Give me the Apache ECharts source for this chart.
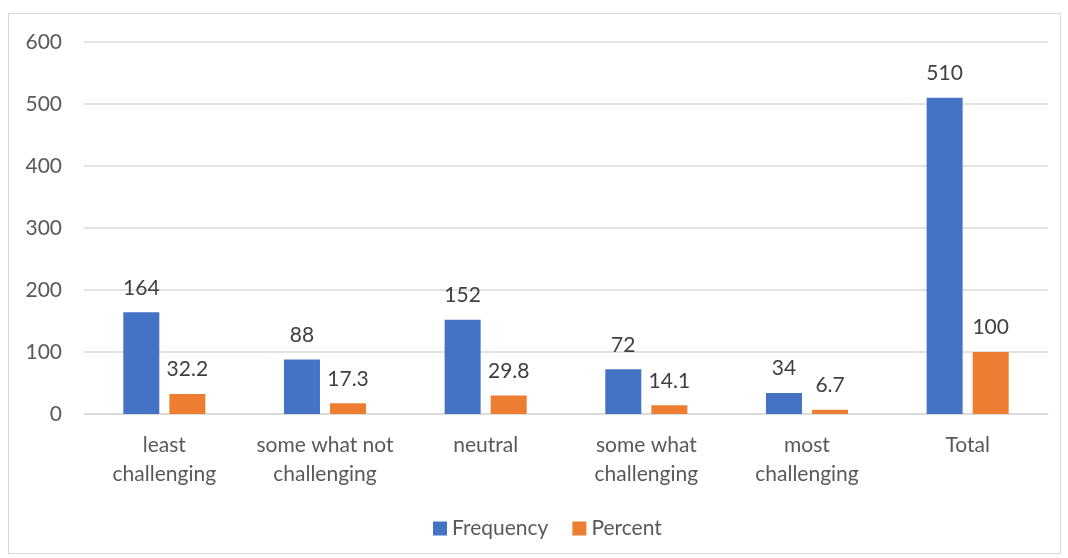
<!DOCTYPE html>
<html>
<head>
<meta charset="utf-8">
<script src="https://cdn.jsdelivr.net/npm/echarts@6/dist/echarts.min.js"></script>
<style>
  html, body { margin: 0; padding: 0; background: #fff; }
  #frame { position: absolute; left: 8px; top: 13px; width: 1053px; height: 541px; border: 1px solid #d9d9d9; box-sizing: border-box; }
  #chart { position: absolute; left: 0; top: 0; width: 1068px; height: 558px; }
</style>
</head>
<body>
<div id="frame"></div>
<div id="chart"></div>
<script>
// Survey responses: how challenging respondents found the task
const categories = ['least\nchallenging', 'some what not\nchallenging', 'neutral', 'some what\nchallenging', 'most\nchallenging', 'Total'];
const frequency = [164, 88, 152, 72, 34, 510];
const percent = [32.2, 17.3, 29.8, 14.1, 6.7, 100];
const yTicks = { min: 0, max: 600, interval: 100 };

const FONT = 'Lato, "Open Sans", sans-serif';
const FS = 21;
const chart = echarts.init(document.getElementById('chart'));

const labelStyle = {
  show: true,
  position: 'top',
  distance: 14,
  color: '#404040',
  fontSize: FS,
  fontFamily: FONT
};

chart.setOption({
  animation: false,
  color: ['#4472C4', '#ED7D31'],
  grid: { left: 84, right: 20, top: 42, bottom: 144, containLabel: false },
  legend: {
    bottom: 14,
    left: 428,
    itemWidth: 14,
    itemHeight: 14,
    itemGap: 24,
    icon: 'rect',
    textStyle: { color: '#595959', fontSize: FS, fontFamily: FONT },
    data: ['Frequency', 'Percent']
  },
  xAxis: {
    type: 'category',
    data: categories,
    axisLine: { show: true, lineStyle: { color: '#d9d9d9', width: 1.5 } },
    axisTick: { show: false },
    axisLabel: {
      color: '#595959',
      fontSize: FS,
      fontFamily: FONT,
      lineHeight: 29,
      margin: 17,
      interval: 0
    }
  },
  yAxis: {
    type: 'value',
    min: yTicks.min,
    max: yTicks.max,
    interval: yTicks.interval,
    axisLine: { show: false },
    axisTick: { show: false },
    splitLine: { lineStyle: { color: '#d9d9d9', width: 1.5 } },
    axisLabel: { color: '#595959', fontSize: FS, fontFamily: FONT, margin: 22 }
  },
  series: [
    {
      name: 'Frequency',
      type: 'bar',
      data: frequency,
      barWidth: '22.4%',
      barGap: '28%',
      label: labelStyle
    },
    {
      name: 'Percent',
      type: 'bar',
      data: percent,
      barWidth: '22.4%',
      label: labelStyle
    }
  ]
});
</script>
</body>
</html>
